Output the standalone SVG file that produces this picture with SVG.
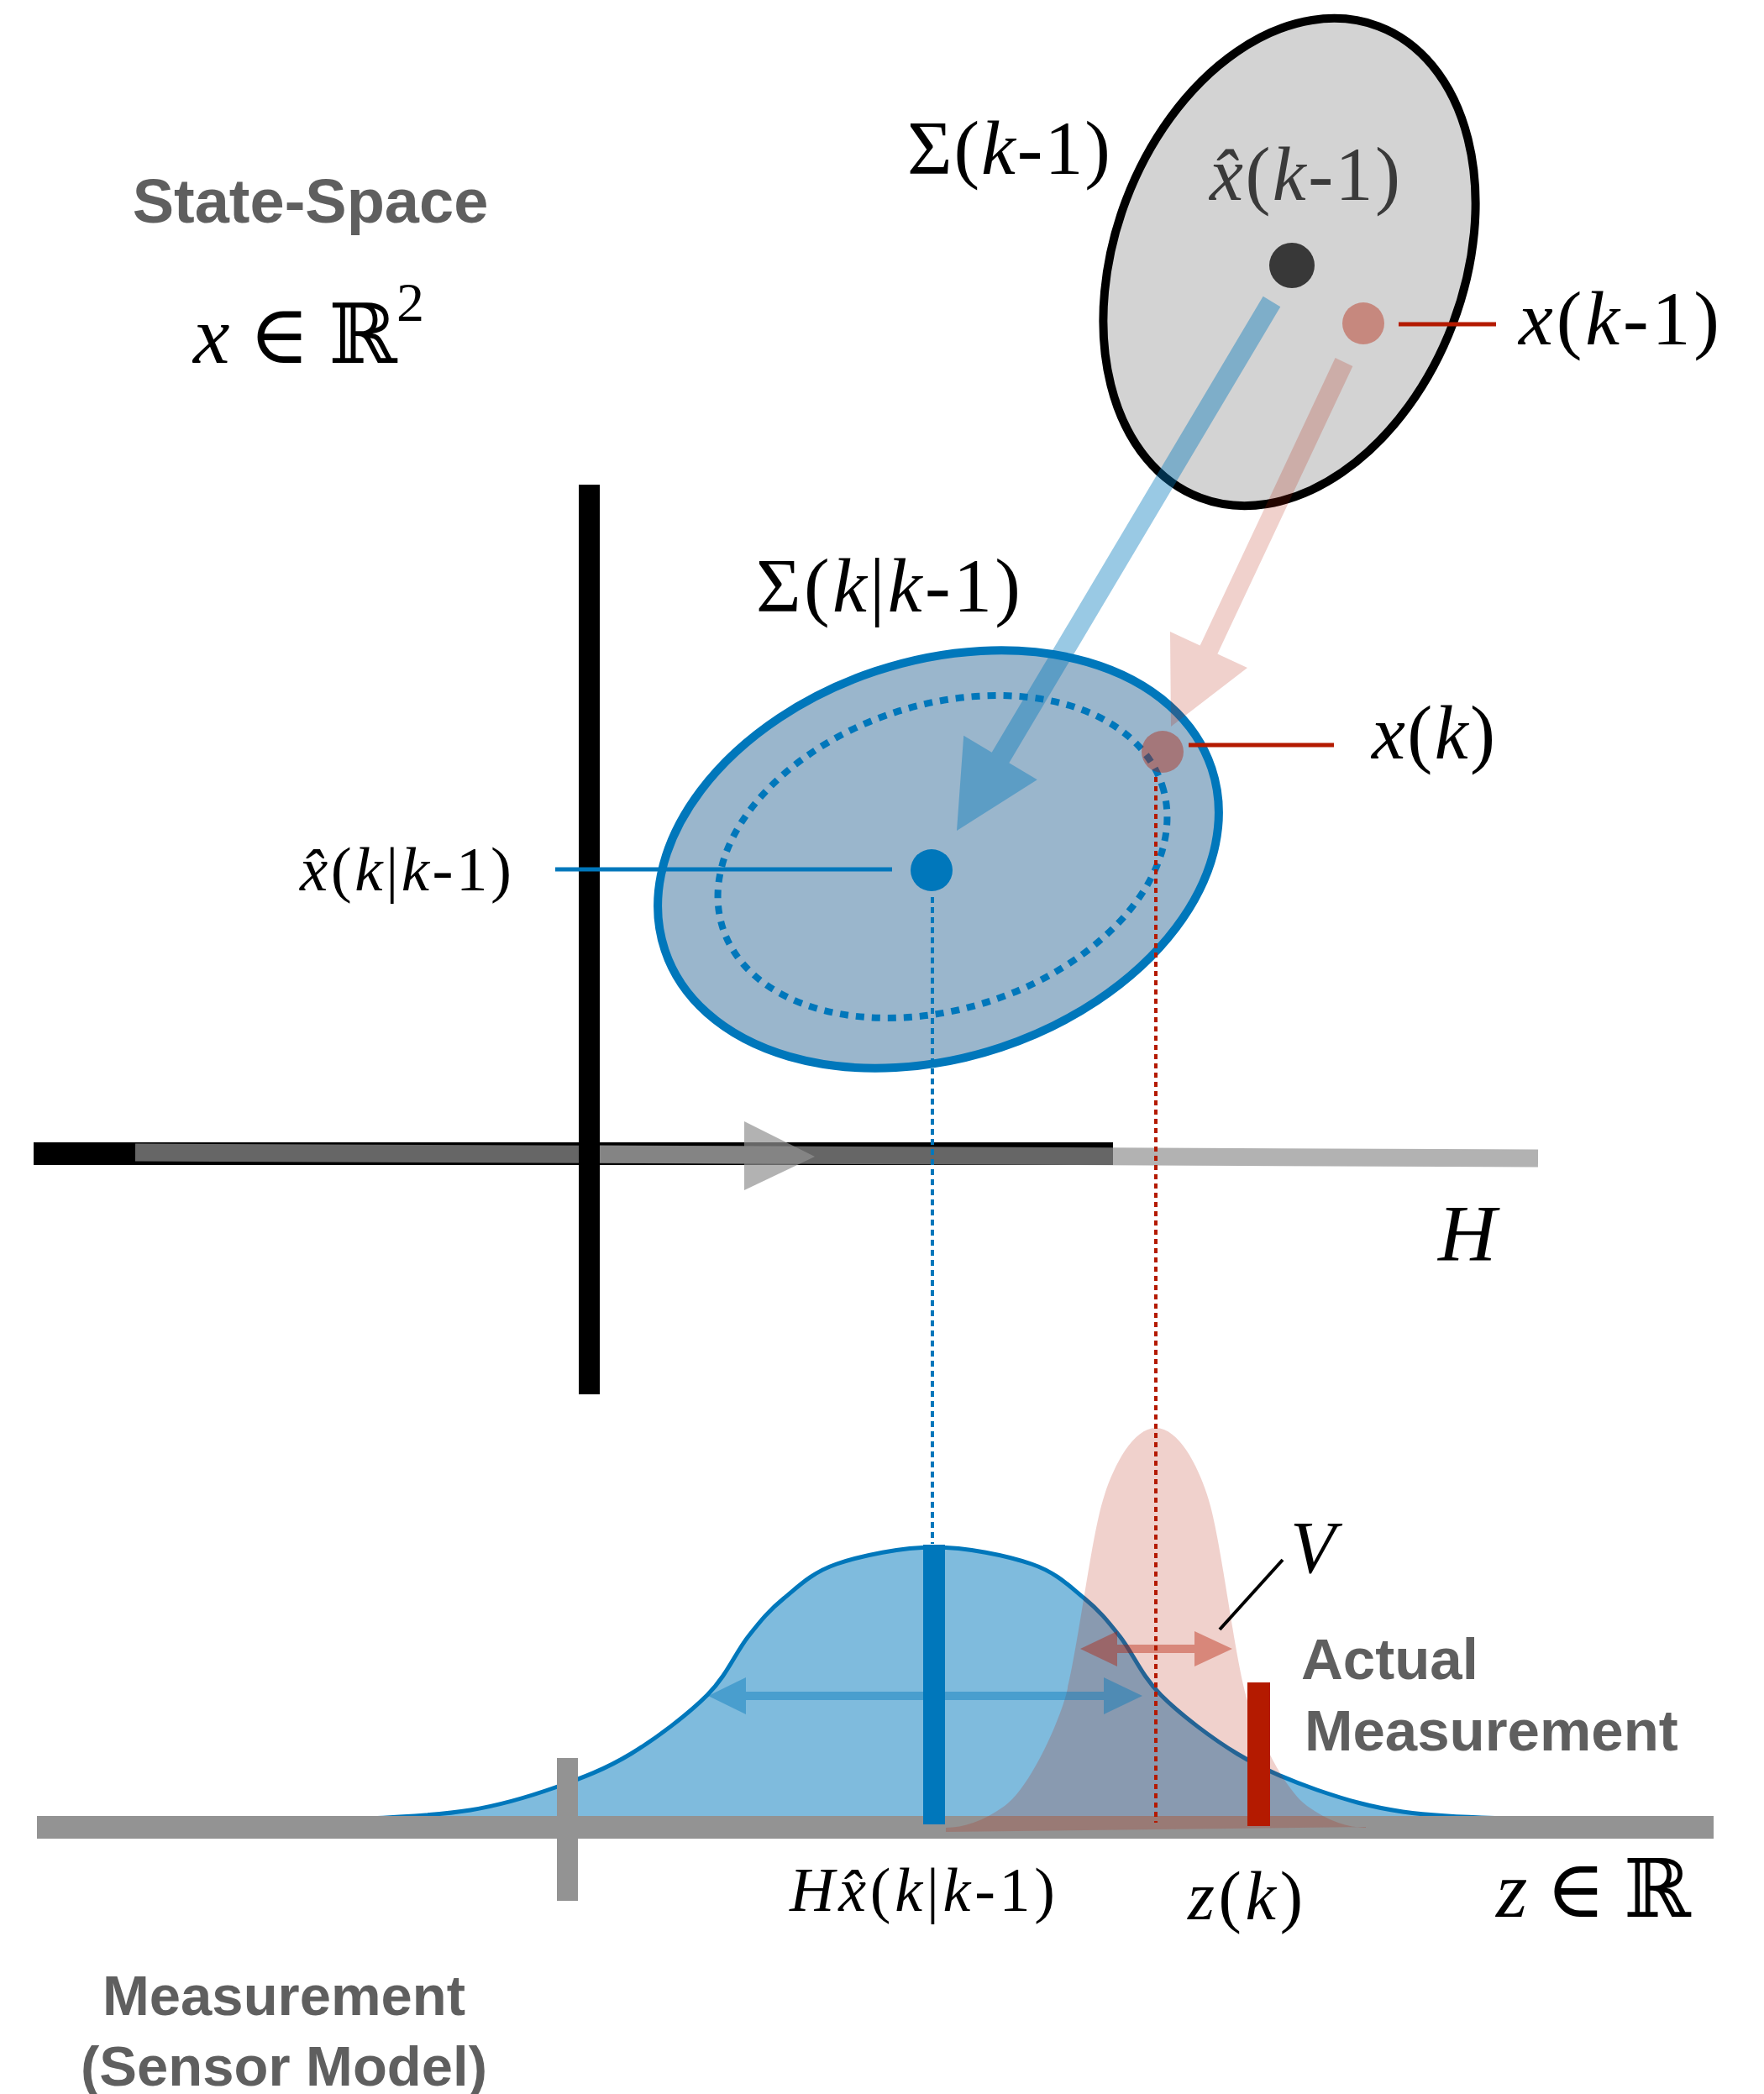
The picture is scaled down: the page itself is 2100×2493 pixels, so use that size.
<svg xmlns="http://www.w3.org/2000/svg" width="2100" height="2493" viewBox="0 0 2100 2493">
<style>
.sans{font-family:"Liberation Sans",Arial,Helvetica,sans-serif;font-weight:bold;fill:#5f5f5f}
.m{font-family:"Liberation Serif","DejaVu Serif",serif;fill:#000}
.i{font-style:italic}
.gr{fill:#929292;fill-opacity:0.7}
.grl{stroke:#929292;stroke-opacity:0.7;stroke-width:21;fill:none}
</style>
<rect width="2100" height="2493" fill="#fff"/>

<g id="titles">
<text class="sans" x="369.5" y="265" font-size="74" text-anchor="middle">State-Space</text>
<text class="m" x="230" y="432" font-size="98" textLength="275"><tspan class="i">x</tspan> ∈ ℝ<tspan font-size="66" dy="-50">2</tspan></text>
<text class="sans" x="338" y="2399" font-size="67" text-anchor="middle">Measurement</text>
<text class="sans" x="338" y="2483" font-size="67" text-anchor="middle">(Sensor Model)</text>
</g>

<g id="state-axes">
<rect x="40" y="1360" width="1285" height="27" fill="#000"/>
</g>

<g id="H-projection">
<line class="grl" x1="161" y1="1372" x2="886" y2="1375"/>
<line class="grl" x1="701" y1="1374" x2="1831" y2="1379"/>
<polygon class="gr" points="886,1335 886,1417 970,1377"/>
<text class="m i" x="1712" y="1501" font-size="96">H</text>
</g>

<g id="state-axis-vertical">
<rect x="689" y="577" width="25" height="1083" fill="#000"/>
</g>

<g id="prior-estimate">
<ellipse cx="1535" cy="312" rx="208" ry="300" transform="rotate(20.7 1535 312)" fill="#d3d3d3" stroke="#000" stroke-width="10"/>
<circle cx="1538" cy="316" r="27" fill="#383838"/>
<text class="m" x="1080" y="207" font-size="92" textLength="242">Σ(<tspan class="i">k</tspan>-1)</text>
<text class="m" x="1440" y="238" font-size="90" textLength="227" style="fill:#3a3a3a"><tspan class="i">x̂</tspan>(<tspan class="i">k</tspan>-1)</text>
</g>

<g id="true-state-prev">
<circle cx="1623" cy="385" r="25" fill="#b41a00" fill-opacity="0.4"/>
<text class="m" x="1808" y="410" font-size="92" textLength="239"><tspan class="i">x</tspan>(<tspan class="i">k</tspan>-1)</text>
</g>

<g id="predicted-estimate">
<ellipse cx="1117" cy="1023" rx="343" ry="236" transform="rotate(-18.4 1117 1023)" fill="#9ab6cc" stroke="#0077bb" stroke-width="10"/>
<ellipse cx="1122" cy="1020" rx="275" ry="181" transform="rotate(-18 1122 1020)" fill="none" stroke="#0077bb" stroke-width="8" stroke-dasharray="10 9"/>
<circle cx="1109" cy="1036" r="25" fill="#0077bb"/>
<text class="m" x="900" y="728" font-size="92" textLength="315">Σ(<tspan class="i">k</tspan>|<tspan class="i">k</tspan>-1)</text>
<text class="m" x="357" y="1060" font-size="75" textLength="252"><tspan class="i">x̂</tspan>(<tspan class="i">k</tspan>|<tspan class="i">k</tspan>-1)</text>
</g>

<g id="connectors">
<polygon points="1503.7,352.8 1524.3,365.2 1201.3,908.2 1234.8,928.2 1139,989 1147.2,875.8 1180.7,895.8" fill="#0077bb" fill-opacity="0.4"/>
<polygon points="1589.6,426.1 1610.4,435.9 1449.4,778.4 1485,795.1 1394,865 1393,751.9 1428.6,768.6" fill="#b41a00" fill-opacity="0.2"/>
<line x1="1665" y1="386" x2="1781" y2="386" stroke="#b41a00" stroke-width="5"/>
<line x1="661" y1="1035" x2="1062" y2="1035" stroke="#0077bb" stroke-width="5"/>
<line x1="1415" y1="887" x2="1588" y2="887" stroke="#b41a00" stroke-width="5"/>
<line x1="1110" y1="1068" x2="1110" y2="1838" stroke="#0077bb" stroke-width="4" stroke-dasharray="7 5"/>
</g>

<g id="true-state">
<circle cx="1384" cy="895" r="25" fill="#b41a00" fill-opacity="0.4"/>
<text class="m" x="1633" y="903" font-size="90" textLength="147"><tspan class="i">x</tspan>(<tspan class="i">k</tspan>)</text>
</g>

<g id="measurement-prediction">
<path d="M435,2165 C476.7,2163.3 522.3,2161.2 560,2155 C597.7,2148.8 629.2,2139.2 661,2128 C692.8,2116.8 720.8,2106.3 751,2088 C781.2,2069.7 818.7,2041.3 842,2018 C865.3,1994.7 875.8,1967.2 891,1948 C906.2,1928.8 915.5,1917.3 933,1903 C950.5,1888.7 966.2,1872.2 996,1862 C1025.8,1851.8 1073.3,1842 1112,1842 C1150.7,1842 1198.2,1851.8 1228,1862 C1257.8,1872.2 1273.5,1888.7 1291,1903 C1308.5,1917.3 1317.8,1928.8 1333,1948 C1348.2,1967.2 1358.7,1994.7 1382,2018 C1405.3,2041.3 1442.8,2069.7 1473,2088 C1503.2,2106.3 1533,2119 1568,2131 C1603,2143 1630,2151 1670,2157 C1715,2163 1770,2165 1830,2165 L1830,2172 L435,2172 Z" fill="#0077bb" fill-opacity="0.5" stroke="#0077bb" stroke-width="5"/>
</g>

<g id="measurement-axis">
<rect x="44" y="2162" width="1996" height="27" fill="#939393"/>
<rect x="663" y="2093" width="25" height="170" fill="#939393"/>
<text class="m" x="1781" y="2282" font-size="96" textLength="232"><tspan class="i">z</tspan> ∈ ℝ</text>
</g>

<g id="measurement-noise">
<path d="M1126,2181 L1126,2176 C1147,2176 1171,2168 1196,2150 C1221,2132 1251,2073 1266,2028 C1281,1983 1296,1850 1311,1793 C1321,1755 1346,1700 1376,1700 C1406,1700 1431,1755 1441,1793 C1456,1850 1471,1983 1486,2028 C1501,2073 1531,2132 1556,2150 C1581,2168 1605,2176 1626,2176 L1626,2175 Z" fill="#b41a00" fill-opacity="0.2"/>
</g>

<g id="spread-arrows">
<polygon points="843,2019 888,1997 888,2014 1314,2014 1314,1997 1360,2019 1314,2041 1314,2024 888,2024 888,2041" fill="#0077bb" fill-opacity="0.42"/>
<polygon points="1286,1963 1330,1942 1330,1958 1422,1958 1422,1942 1467,1963 1422,1984 1422,1968 1330,1968 1330,1984" fill="#b41a00" fill-opacity="0.4"/>
<line x1="1452" y1="1940" x2="1527" y2="1857" stroke="#000" stroke-width="4"/>
<text class="m i" x="1536" y="1872" font-size="88">V</text>
</g>

<g id="predicted-measurement">
<rect x="1099" y="1839" width="26" height="333" fill="#0077bb"/>
<text class="m" x="940" y="2275" font-size="74" textLength="316"><tspan class="i">H</tspan><tspan class="i">x̂</tspan>(<tspan class="i">k</tspan>|<tspan class="i">k</tspan>-1)</text>
</g>

<g id="actual-measurement">
<rect x="1485" y="2003" width="27" height="171" fill="#b41a00"/>
<text class="sans" x="1549" y="1999" font-size="69">Actual</text>
<text class="sans" x="1553" y="2084" font-size="69">Measurement</text>
<text class="m" x="1414" y="2285" font-size="82" textLength="137"><tspan class="i">z</tspan>(<tspan class="i">k</tspan>)</text>
</g>

<g id="projection-lines">
<line x1="1376" y1="925" x2="1376" y2="2170" stroke="#b41a00" stroke-width="4" stroke-dasharray="6 5"/>
</g>
</svg>
